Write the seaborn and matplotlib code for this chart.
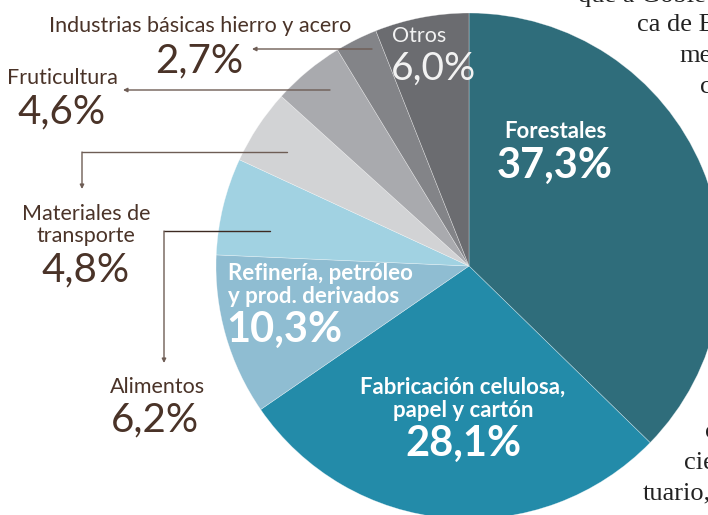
import matplotlib
matplotlib.use("Agg")
import matplotlib.pyplot as plt
import seaborn as sns

# ---- data ----
sectors = ["Forestales", "Fabricación celulosa, papel y cartón",
           "Refinería, petróleo y prod. derivados", "Alimentos",
           "Materiales de transporte", "Fruticultura",
           "Industrias básicas hierro y acero", "Otros"]
shares = [37.3, 28.1, 10.3, 6.2, 4.8, 4.6, 2.7, 6.0]
share_labels = ["37,3%", "28,1%", "10,3%", "6,2%", "4,8%", "4,6%", "2,7%", "6,0%"]
colors = ["#2f6d7b", "#238ba9", "#8fbdd2", "#a1d2e2",
          "#d2d3d5", "#a9aaae", "#838488", "#6b6c70"]

sns.set_theme(style="white")
plt.rcParams['font.family'] = ['Lato', 'DejaVu Sans']

W, H = 708, 515
fig = plt.figure(figsize=(W / 100, H / 100), dpi=100)
ax = fig.add_axes([0, 0, 1, 1])

cx, cy, R = 469, 266, 253
# y axis is inverted (pixel-like coords), so counterclock in data = clockwise on screen
ax.pie(shares, colors=sns.color_palette(colors), startangle=-90, counterclock=True,
       radius=R, center=(cx, cy), frame=True,
       wedgeprops=dict(linewidth=0.4, edgecolor="#ffffff80"))
ax.set_xlim(0, W)
ax.set_ylim(H, 0)
ax.set_aspect("equal")
ax.set_axis_off()

brown = "#4a3328"
line_c = "#6e5d55"
white = "white"
lab_fs = 15.5
big_fs = 30
in_fs = 16

# inner labels
ax.text(555, 131, "Forestales", color=white, fontsize=in_fs, fontweight="bold", ha="center", va="center")
ax.text(555, 166, share_labels[0], color=white, fontsize=big_fs, fontweight="bold", ha="center", va="center")
ax.text(463, 399, "Fabricación celulosa,\npapel y cartón", color=white, fontsize=in_fs,
        fontweight="bold", ha="center", va="center", linespacing=1.15)
ax.text(463, 444, share_labels[1], color=white, fontsize=big_fs, fontweight="bold", ha="center", va="center")
ax.text(228, 285, "Refinería, petróleo\ny prod. derivados", color=white, fontsize=in_fs,
        fontweight="bold", ha="left", va="center", linespacing=1.15)
ax.text(226, 330, share_labels[2], color=white, fontsize=big_fs, fontweight="bold", ha="left", va="center")
ax.text(392, 36, "Otros", color="#f2f2f2", fontsize=lab_fs, ha="left", va="center")
ax.text(391, 69, share_labels[7], color="#f2f2f2", fontsize=28, ha="left", va="center")

# outside labels
ax.text(200, 26, "Industrias básicas hierro y acero", color=brown, fontsize=lab_fs,
        ha="center", va="center")
ax.text(199, 61, share_labels[6], color=brown, fontsize=29, ha="center", va="center")
ax.text(62, 78, "Fruticultura", color=brown, fontsize=lab_fs, ha="center", va="center")
ax.text(62, 112, share_labels[5], color=brown, fontsize=29, ha="center", va="center")
ax.text(86, 225, "Materiales de\ntransporte", color=brown, fontsize=lab_fs,
        ha="center", va="center", linespacing=1.15)
ax.text(86, 270, share_labels[4], color=brown, fontsize=29, ha="center", va="center")
ax.text(158, 387, "Alimentos", color=brown, fontsize=lab_fs, ha="center", va="center")
ax.text(155, 420, share_labels[3], color=brown, fontsize=29, ha="center", va="center")

# leader arrows
arrow = dict(arrowstyle="-|>", color=line_c, lw=1.0, mutation_scale=6, shrinkA=0, shrinkB=0)
ax.annotate("", xy=(252, 49), xytext=(372, 49), arrowprops=arrow)
ax.annotate("", xy=(123, 90), xytext=(330, 90), arrowprops=arrow)
ax.plot([287, 82], [152, 152], color=line_c, lw=1.0)
ax.annotate("", xy=(82, 189), xytext=(82, 152), arrowprops=arrow)
ax.plot([270, 164], [231, 231], color="#3d2a22", lw=1.0)
ax.annotate("", xy=(164, 363), xytext=(164, 231), arrowprops=arrow)

# surrounding page text (cut off by the page edge in the original)
serif = ['Liberation Serif', 'DejaVu Serif']
for x, y, s in [(578, -4, "que a Gobie"), (637, 25, "ca de B"), (679, 56, "me"),
                (700, 87, "c"), (705, 432, "c"), (684, 463, "cie"), (643, 493, "tuario,")]:
    ax.text(x, y, s, family=serif, fontsize=19, color="#222222", ha="left", va="center")

fig.savefig("out.png", dpi=100)
